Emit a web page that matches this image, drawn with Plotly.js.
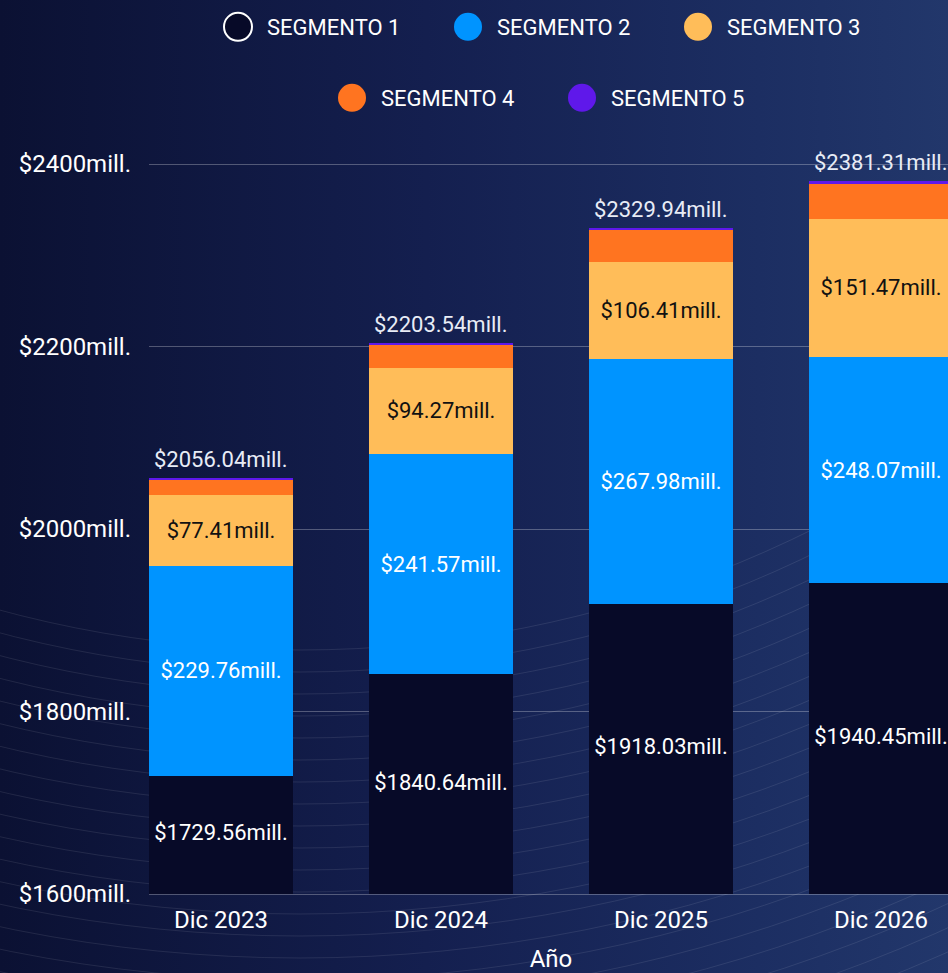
<!DOCTYPE html>
<html>
<head>
<meta charset="utf-8">
<script src="https://cdn.plot.ly/plotly-3.0.1.min.js"></script>
<style>
html, body { margin: 0; padding: 0; width: 948px; height: 973px; overflow: hidden; }
body { background-color: #121c47; }
#chart { width: 1000px; height: 973px; }
</style>
</head>
<body>
<div id="chart"></div>
<script>
// ---- data ----
const categories = ['Dic 2023', 'Dic 2024', 'Dic 2025', 'Dic 2026'];
const seriesNames = ['SEGMENTO 1', 'SEGMENTO 2', 'SEGMENTO 3', 'SEGMENTO 4', 'SEGMENTO 5'];
const segmento1 = [1729.56, 1840.64, 1918.03, 1940.45];
const segmento2 = [229.76, 241.57, 267.98, 248.07];
const segmento3 = [77.41, 94.27, 106.41, 151.47];
const segmento4 = [17.50, 24.90, 35.00, 38.31];
const segmento5 = [1.81, 2.16, 2.52, 3.01];
const totals = [2056.04, 2203.54, 2329.94, 2381.31];
const yTickPrefix = '$';
const yTickSuffix = 'mill.';
const yRange = [1600, 2437.26];

// ---- styles ----
const colors = ['#070a28', '#0094ff', '#ffbd59', '#ff7420', '#5f18ea'];
const textColors = ['#ffffff', '#ffffff', '#111111', '#111111', '#ffffff'];
const showText = [false, true, true, false, false];
const FONT = 'Roboto, "Noto Sans", sans-serif';

// background: gradient + faint arcs
(function () {
  let circles = '';
  for (let r = 1150; r <= 1620; r += 22) {
    circles += `<circle cx="300" cy="-500" r="${r}" fill="none" stroke="rgba(255,255,255,0.09)" stroke-width="1"/>`;
  }
  const svg = `<svg xmlns="http://www.w3.org/2000/svg" width="948" height="973">${circles}</svg>`;
  document.body.style.backgroundImage =
    `url("data:image/svg+xml,${encodeURIComponent(svg)}"), linear-gradient(90deg, #0b1133 0%, #141f4f 45%, #1c2e62 80%, #22376b 100%)`;
  document.body.style.backgroundRepeat = 'no-repeat';
})();

const fmt = v => '$' + v.toFixed(2) + 'mill.';
const segs = [segmento1, segmento2, segmento3, segmento4, segmento5];

const traces = [];
segs.forEach((vals, i) => {
  traces.push({
    type: 'bar',
    x: categories,
    y: vals,
    name: seriesNames[i],
    marker: { color: colors[i], line: { width: 0 } },
    text: vals.map(fmt),
    texttemplate: showText[i] ? '%{text}' : '',
    textposition: showText[i] ? 'inside' : 'none',
    insidetextanchor: 'middle',
    textfont: { family: FONT, size: 22, color: textColors[i] },
    showlegend: false,
    hovertemplate: seriesNames[i] + ': %{text}<extra></extra>'
  });
});

// segment 1 labels, centred on the visible part of the bottom segment
traces.push({
  type: 'scatter',
  mode: 'text',
  x: categories,
  y: segmento1.map(v => (yRange[0] + v) / 2),
  text: segmento1.map(fmt),
  textposition: 'middle center',
  textfont: { family: FONT, size: 22, color: '#ffffff' },
  showlegend: false,
  hoverinfo: 'skip'
});

// legend entries (circle markers)
seriesNames.forEach((n, i) => {
  traces.push({
    type: 'scatter',
    mode: 'markers',
    x: [null],
    y: [null],
    name: n,
    legend: i < 3 ? 'legend' : 'legend2',
    marker: {
      color: colors[i],
      size: 16,
      line: i === 0 ? { color: '#ffffff', width: 2 } : { width: 0 }
    },
    showlegend: true,
    hoverinfo: 'skip'
  });
});

// totals above bars
const annotations = categories.map((c, i) => ({
  x: c,
  y: totals[i],
  xref: 'x',
  yref: 'y',
  text: fmt(totals[i]),
  showarrow: false,
  yanchor: 'bottom',
  yshift: 4,
  font: { family: FONT, size: 22, color: '#e8ecf6' }
}));

const legendBase = {
  orientation: 'h',
  xref: 'container',
  yref: 'container',
  xanchor: 'center',
  yanchor: 'middle',
  bgcolor: 'rgba(0,0,0,0)',
  font: { family: FONT, size: 22, color: '#ffffff' },
  entrywidth: 167,
  entrywidthmode: 'pixels',
  itemwidth: 48,
  traceorder: 'normal',
  itemclick: false,
  itemdoubleclick: false
};

const layout = {
  width: 1000,
  height: 973,
  margin: { l: 149, r: 47, t: 130, b: 79 },
  paper_bgcolor: 'rgba(0,0,0,0)',
  plot_bgcolor: 'rgba(0,0,0,0)',
  barmode: 'stack',
  bargap: 0.3455,
  font: { family: FONT, size: 22, color: '#ffffff' },
  xaxis: {
    type: 'category',
    range: [-0.3273, 3.3273],
    showgrid: false,
    zeroline: false,
    showline: true,
    linecolor: 'rgba(255,255,255,0.28)',
    linewidth: 1,
    ticks: '',
    ticklabelstandoff: 4,
    tickfont: { family: FONT, size: 24, color: '#ffffff' },
    title: { text: 'Año', font: { family: FONT, size: 24, color: '#ffffff' }, standoff: 22 },
    automargin: false
  },
  yaxis: {
    range: yRange,
    tick0: 1600,
    dtick: 200,
    tickprefix: yTickPrefix,
    ticksuffix: yTickSuffix,
    showgrid: true,
    gridcolor: 'rgba(255,255,255,0.28)',
    gridwidth: 1,
    zeroline: false,
    showline: false,
    ticks: '',
    ticklabelstandoff: 17,
    tickfont: { family: FONT, size: 24, color: '#ffffff' },
    automargin: false
  },
  legend: Object.assign({}, legendBase, { x: 0.554, y: 1 - 27 / 973 }),
  legend2: Object.assign({}, legendBase, { x: 0.553, y: 1 - 98 / 973 }),
  annotations: annotations,
  showlegend: true
};

Plotly.newPlot('chart', traces, layout, { displayModeBar: false, staticPlot: true }).then(function () {
  const r = 14;
  const d = 'M' + r + ',0A' + r + ',' + r + ' 0 1,1 0,-' + r + 'A' + r + ',' + r + ' 0 0,1 ' + r + ',0Z';
  document.querySelectorAll('#chart .legendpoints path.scatterpts').forEach(p => p.setAttribute('d', d));
});
</script>
</body>
</html>
